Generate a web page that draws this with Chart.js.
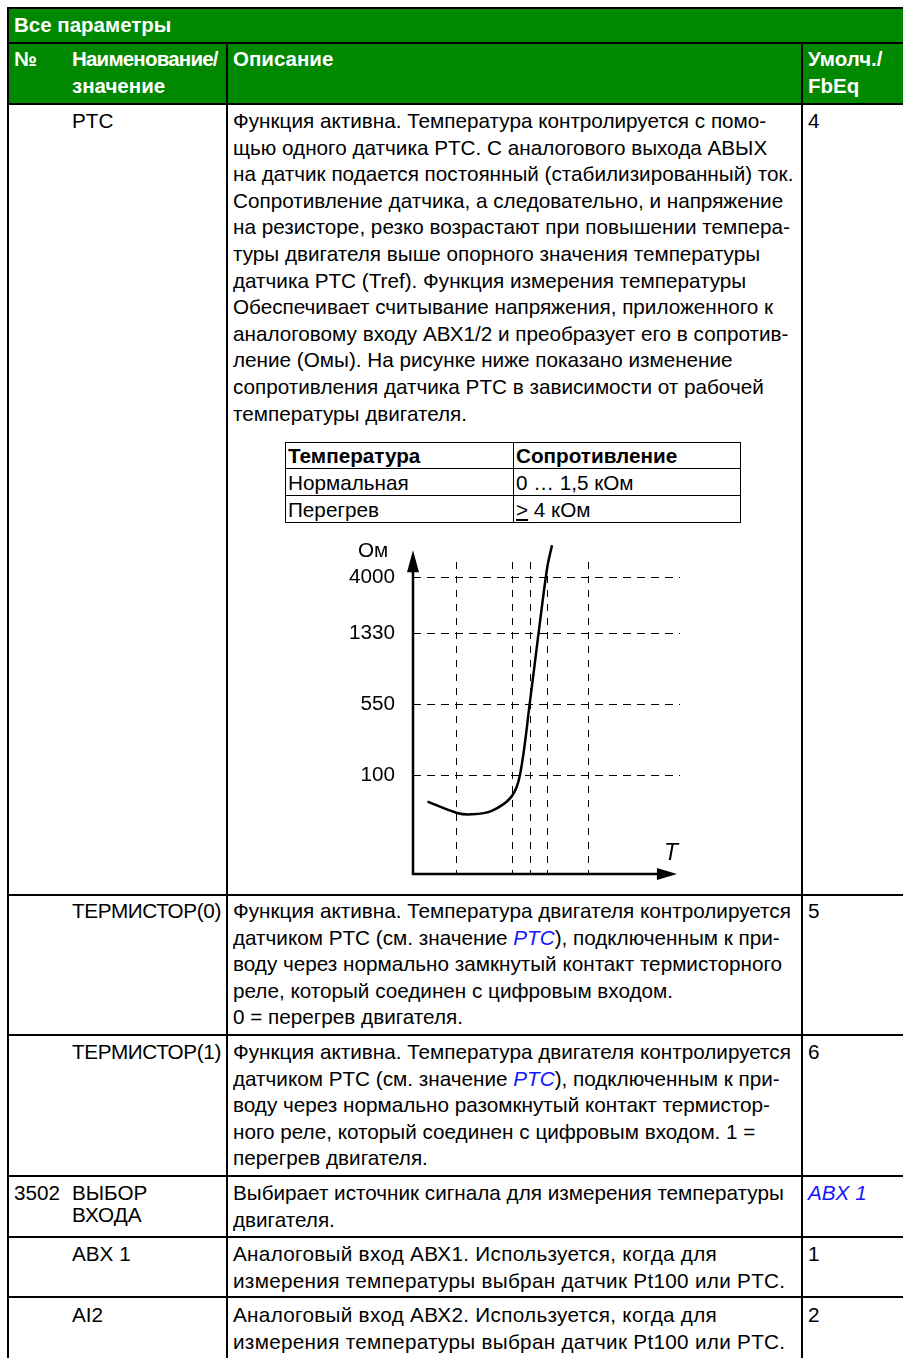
<!DOCTYPE html>
<html lang="ru">
<head>
<meta charset="utf-8">
<title>Все параметры</title>
<script src="https://cdn.jsdelivr.net/npm/chart.js@4"></script>
<style>
  body { margin: 0; width: 903px; height: 1358px; overflow: hidden; background: #fff;
         font-family: "Liberation Sans", Arial, sans-serif; font-size: 20.7px; color: #000; position: relative; }
  .abs { position: absolute; white-space: nowrap; }
  .hd { color: #fff; font-weight: bold; line-height: 27px; font-size: 20.5px; }
  .tx { line-height: 26.6px; }
  .nm { letter-spacing: -0.35px; }
  .wide { letter-spacing: 0.3px; }
  .ln { position: absolute; background: #000; }
  .lnk { color: #1414ff; font-style: italic; }
  #green { position: absolute; left: 7px; top: 7px; width: 900px; height: 98px; background: #008800; }
  #mini { position: absolute; left: 285px; top: 442px; border-collapse: collapse; }
  #mini td { border: 1.5px solid #000; padding: 0 2px; height: 25px; line-height: 25px; box-sizing: border-box; }
  #chartBox { position: absolute; left: 340px; top: 535px; width: 360px; height: 355px; }
</style>
</head>
<body>
<div id="green"></div>

<!-- table grid -->
<div class="ln" style="left:7px;top:7px;width:900px;height:2px"></div>
<div class="ln" style="left:7px;top:42px;width:900px;height:2px"></div>
<div class="ln" style="left:7px;top:103px;width:900px;height:2px"></div>
<div class="ln" style="left:7px;top:894px;width:900px;height:2px"></div>
<div class="ln" style="left:7px;top:1034px;width:900px;height:2px"></div>
<div class="ln" style="left:7px;top:1175px;width:900px;height:2px"></div>
<div class="ln" style="left:7px;top:1236px;width:900px;height:2px"></div>
<div class="ln" style="left:7px;top:1296px;width:900px;height:2px"></div>
<div class="ln" style="left:7px;top:7px;width:2px;height:1360px"></div>
<div class="ln" style="left:226px;top:42px;width:2px;height:1320px"></div>
<div class="ln" style="left:801px;top:42px;width:2px;height:1320px"></div>

<!-- header -->
<div class="abs hd" style="left:14px;top:11px">Все параметры</div>
<div class="abs hd" style="left:14px;top:45px">№</div>
<div class="abs hd" style="left:72px;top:45px"><span style="letter-spacing:-0.8px">Наименование/</span><br>значение</div>
<div class="abs hd" style="left:233px;top:45px">Описание</div>
<div class="abs hd" style="left:808px;top:45px">Умолч./<br>FbEq</div>

<!-- PTC -->
<div class="abs tx" style="left:72px;top:108px">PTC</div>
<div class="abs tx" style="left:233px;top:108px">Функция активна. Температура контролируется с помо-<br>щью одного датчика PTC. С аналогового выхода АВЫХ<br>на датчик подается постоянный (стабилизированный) ток.<br>Сопротивление датчика, а следовательно, и напряжение<br>на резисторе, резко возрастают при повышении темпера-<br>туры двигателя выше опорного значения температуры<br>датчика PTC (Tref). Функция измерения температуры<br>Обеспечивает считывание напряжения, приложенного к<br>аналоговому входу АВХ1/2 и преобразует его в сопротив-<br>ление (Омы). На рисунке ниже показано изменение<br>сопротивления датчика PTC в зависимости от рабочей<br>температуры двигателя.</div>
<div class="abs tx" style="left:808px;top:108px">4</div>

<table id="mini">
  <tr><td style="width:228px;height:26px"><b>Температура</b></td><td style="width:227px;height:26px"><b>Сопротивление</b></td></tr>
  <tr><td style="height:27px">Нормальная</td><td style="height:27px">0 … 1,5 кОм</td></tr>
  <tr><td style="height:27px">Перегрев</td><td style="height:27px"><u>&gt;</u> 4 кОм</td></tr>
</table>

<div id="chartBox"><canvas id="ptcChart"></canvas></div>

<!-- ТЕРМИСТОР(0) -->
<div class="abs tx nm" style="left:72px;top:898px">ТЕРМИСТОР(0)</div>
<div class="abs tx" style="left:233px;top:898px">Функция активна. Температура двигателя контролируется<br>датчиком PTC (см. значение <span class="lnk">PTC</span>), подключенным к при-<br>воду через нормально замкнутый контакт термисторного<br>реле, который соединен с цифровым входом.<br>0 = перегрев двигателя.</div>
<div class="abs tx" style="left:808px;top:898px">5</div>

<!-- ТЕРМИСТОР(1) -->
<div class="abs tx nm" style="left:72px;top:1039px">ТЕРМИСТОР(1)</div>
<div class="abs tx" style="left:233px;top:1039px">Функция активна. Температура двигателя контролируется<br>датчиком PTC (см. значение <span class="lnk">PTC</span>), подключенным к при-<br>воду через нормально разомкнутый контакт термистор-<br>ного реле, который соединен с цифровым входом. 1 =<br>перегрев двигателя.</div>
<div class="abs tx" style="left:808px;top:1039px">6</div>

<!-- 3502 -->
<div class="abs" style="left:14px;top:1182px;line-height:22px">3502</div>
<div class="abs" style="left:72px;top:1182px;line-height:22px">ВЫБОР<br>ВХОДА</div>
<div class="abs tx" style="left:233px;top:1180px">Выбирает источник сигнала для измерения температуры<br>двигателя.</div>
<div class="abs tx lnk" style="left:808px;top:1180px">ABX 1</div>

<div class="abs tx" style="left:72px;top:1241px">ABX 1</div>
<div class="abs tx wide" style="left:233px;top:1241px">Аналоговый вход АВХ1. Используется, когда для<br>измерения температуры выбран датчик Pt100 или PTC.</div>
<div class="abs tx" style="left:808px;top:1241px">1</div>

<div class="abs tx" style="left:72px;top:1302px">AI2</div>
<div class="abs tx wide" style="left:233px;top:1302px">Аналоговый вход АВХ2. Используется, когда для<br>измерения температуры выбран датчик Pt100 или PTC.</div>
<div class="abs tx" style="left:808px;top:1302px">2</div>

<script>
// шкала сопротивления (схематичная, не в масштабе)
const resistanceLabels = ['100', '550', '1330', '4000'];
const resistanceLevels = [1.39, 2.39, 3.39, 4.18];
// отметки температуры на оси T
const tempMarks = [1.0, 2.27, 2.66, 3.05, 4.0];
// кривая PTC
const curveT = [0.33, 1.0, 1.33, 1.79, 2.24, 2.43, 2.66, 2.85, 3.05, 3.16];
const curveR = [1.02, 0.86, 0.84, 0.89, 1.09, 1.39, 2.43, 3.37, 4.31, 4.63];

const axisArrows = {
    id: 'axisArrows',
    afterDraw(chart) {
        const ctx = chart.ctx;
        const xs = chart.scales.x, ys = chart.scales.y;
        const x0 = xs.getPixelForValue(0), y0 = ys.getPixelForValue(0);
        const xEnd = xs.getPixelForValue(6.0), yEnd = ys.getPixelForValue(4.56);
        ctx.save();
        ctx.strokeStyle = '#000';
        ctx.fillStyle = '#000';
        ctx.lineWidth = 2.5;
        ctx.beginPath();
        ctx.moveTo(x0, yEnd + 18);
        ctx.lineTo(x0, y0);
        ctx.lineTo(xEnd - 18, y0);
        ctx.stroke();
        ctx.beginPath();
        ctx.moveTo(x0, yEnd);
        ctx.lineTo(x0 - 6, yEnd + 22);
        ctx.lineTo(x0 + 6, yEnd + 22);
        ctx.closePath();
        ctx.fill();
        ctx.beginPath();
        ctx.moveTo(xEnd, y0);
        ctx.lineTo(xEnd - 20, y0 - 6);
        ctx.lineTo(xEnd - 20, y0 + 6);
        ctx.closePath();
        ctx.fill();
        ctx.font = '20.7px "Liberation Sans", Arial';
        ctx.textBaseline = 'middle';
        ctx.fillText('Ом', x0 - 55, yEnd + 1);
        ctx.font = 'italic 23px "Liberation Sans", Arial';
        ctx.fillText('T', xEnd - 13, y0 - 20);
        ctx.restore();
    }
};

new Chart(document.getElementById('ptcChart'), {
    type: 'scatter',
    data: {
        datasets: [{
            data: curveT.map((t, i) => ({ x: t, y: curveR[i] })),
            showLine: true,
            borderColor: '#000',
            borderWidth: 2.5,
            pointRadius: 0,
            tension: 0.35,
            clip: false
        }]
    },
    options: {
        responsive: true,
        maintainAspectRatio: false,
        animation: false,
        layout: { padding: { top: 27, right: 20, bottom: 16, left: 0 } },
        plugins: { legend: { display: false }, tooltip: { enabled: false } },
        scales: {
            x: {
                min: 0, max: 6.07,
                afterBuildTicks: (axis) => { axis.ticks = tempMarks.map(v => ({ value: v })); },
                afterFit: (axis) => { axis.height = 0; },
                ticks: { display: false },
                grid: { color: '#000', lineWidth: 1, drawTicks: false },
                border: { display: false, dash: [7, 7] }
            },
            y: {
                min: 0, max: 4.394,
                afterBuildTicks: (axis) => { axis.ticks = resistanceLevels.map(v => ({ value: v })); },
                afterFit: (axis) => { axis.width = 73; },
                ticks: {
                    padding: 0,
                    color: '#000',
                    font: { family: '"Liberation Sans", Arial', size: 20.7 },
                    callback: (value, index) => resistanceLabels[index]
                },
                grid: { color: '#000', lineWidth: 1, drawTicks: true, tickLength: 18, tickColor: 'rgba(0,0,0,0)' },
                border: { display: false, dash: [8, 6] }
            }
        }
    },
    plugins: [axisArrows]
});
</script>
</body>
</html>
